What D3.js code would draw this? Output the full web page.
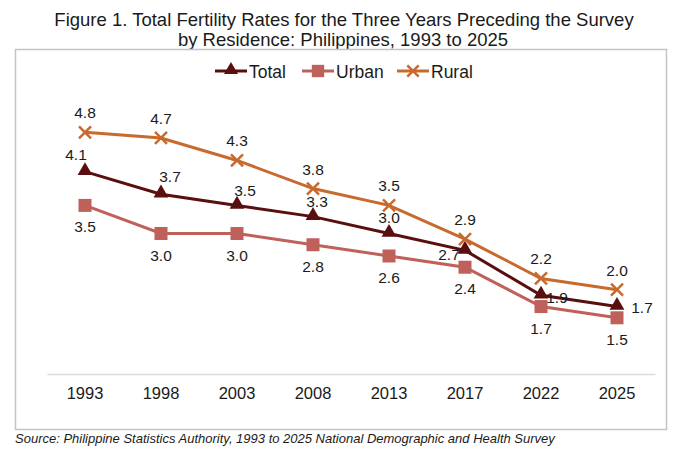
<!DOCTYPE html>
<html>
<head>
<meta charset="utf-8">
<script src="https://cdn.jsdelivr.net/npm/d3@7"></script>
<style>
  html, body { margin: 0; padding: 0; background: #fff; }
  svg { display: block; font-family: "Liberation Sans", Arial, sans-serif; }
</style>
</head>
<body>
<svg id="chart" width="680" height="454"></svg>
<script>
const years = ["1993", "1998", "2003", "2008", "2013", "2017", "2022", "2025"];
const totalValues = [4.1, 3.7, 3.5, 3.3, 3.0, 2.7, 1.9, 1.7];
const urbanValues = [3.5, 3.0, 3.0, 2.8, 2.6, 2.4, 1.7, 1.5];
const ruralValues = [4.8, 4.7, 4.3, 3.8, 3.5, 2.9, 2.2, 2.0];
const seriesNames = ["Total", "Urban", "Rural"];

const colors = { Total: "#5a0f0f", Urban: "#c0605b", Rural: "#c8692d" };

const svg = d3.select("#chart");

// Title
svg.append("text").attr("x", 344).attr("y", 25.5).attr("text-anchor", "middle")
  .attr("font-size", 18.5).attr("fill", "#1a1a1a")
  .text("Figure 1. Total Fertility Rates for the Three Years Preceding the Survey");
svg.append("text").attr("x", 343).attr("y", 45.5).attr("text-anchor", "middle")
  .attr("font-size", 18.5).attr("fill", "#1a1a1a")
  .text("by Residence: Philippines, 1993 to 2025");

// Chart box
svg.append("rect").attr("x", 15.5).attr("y", 49.5).attr("width", 651).attr("height", 380)
  .attr("fill", "none").attr("stroke", "#c4c4c4").attr("stroke-width", 1.5);

const x = d3.scaleBand().domain(years).range([47, 655]);
const y = d3.scaleLinear().domain([0.5, 5.5]).range([374, 93]);
const cx = d => x(d) + x.bandwidth() / 2;

// Axis
const xAxis = d3.axisBottom(x).tickSize(0).tickPadding(13);
const gx = svg.append("g").attr("transform", `translate(0,${y(0.5)})`).call(xAxis);
gx.select(".domain").attr("stroke", "#dcdcdc").attr("stroke-width", 1.3);
gx.selectAll("text").attr("font-size", 16.5).attr("fill", "#1a1a1a")
  .attr("font-family", "Liberation Sans, Arial, sans-serif");

const line = d3.line().x((d, i) => cx(years[i])).y(d => y(d));

const dataBy = { Total: totalValues, Urban: urbanValues, Rural: ruralValues };

function drawMarker(g, name, px, py, scale) {
  const s = scale || 1;
  const c = colors[name];
  if (name === "Total") {
    g.append("path").attr("d", d3.symbol().type(d3.symbolTriangle).size(95 * s * s)())
      .attr("transform", `translate(${px},${py - 1})`).attr("fill", c);
  } else if (name === "Urban") {
    const h = 6.5 * s;
    g.append("rect").attr("x", px - h).attr("y", py - h).attr("width", 2 * h).attr("height", 2 * h)
      .attr("fill", c);
  } else {
    const h = 6 * s;
    g.append("path").attr("d", `M${px - h},${py - h}L${px + h},${py + h}M${px - h},${py + h}L${px + h},${py - h}`)
      .attr("stroke", c).attr("stroke-width", 2.5).attr("fill", "none");
  }
}

// Draw lines (order: Urban, Total, Rural)
["Urban", "Total", "Rural"].forEach(name => {
  svg.append("path").datum(dataBy[name]).attr("d", line)
    .attr("fill", "none").attr("stroke", colors[name]).attr("stroke-width", 3);
});
["Urban", "Total", "Rural"].forEach(name => {
  const g = svg.append("g");
  dataBy[name].forEach((v, i) => drawMarker(g, name, cx(years[i]), y(v)));
});

// Labels
const totalOffsets = [[-9, -17], [9, -18], [8, -15], [4, -15], [0, -16], [-16, 4], [16, 2], [25, 1]];
const labelG = svg.append("g").attr("font-size", 15.5).attr("fill", "#1a1a1a").attr("text-anchor", "middle");
ruralValues.forEach((v, i) => {
  labelG.append("text").attr("x", cx(years[i])).attr("y", y(v) - 14).text(v.toFixed(1));
});
urbanValues.forEach((v, i) => {
  labelG.append("text").attr("x", cx(years[i])).attr("y", y(v) + 27).text(v.toFixed(1));
});
totalValues.forEach((v, i) => {
  const o = totalOffsets[i];
  labelG.append("text").attr("x", cx(years[i]) + o[0]).attr("y", y(v) + o[1] + 5.5).text(v.toFixed(1));
});

// Legend
const legendItems = [
  { name: "Total", x0: 215 },
  { name: "Urban", x0: 302 },
  { name: "Rural", x0: 397 }
];
const ly = 71;
legendItems.forEach(it => {
  svg.append("line").attr("x1", it.x0).attr("x2", it.x0 + 32).attr("y1", ly).attr("y2", ly)
    .attr("stroke", colors[it.name]).attr("stroke-width", 3);
  drawMarker(svg, it.name, it.x0 + 16, ly, 0.95);
  svg.append("text").attr("x", it.x0 + 34).attr("y", ly + 6.5).attr("font-size", 17.5)
    .attr("fill", "#1a1a1a").text(it.name);
});

// Source
svg.append("text").attr("x", 15).attr("y", 443).attr("font-size", 13).attr("font-style", "italic")
  .attr("fill", "#1a1a1a")
  .text("Source: Philippine Statistics Authority, 1993 to 2025 National Demographic and Health Survey");
</script>
</body>
</html>
